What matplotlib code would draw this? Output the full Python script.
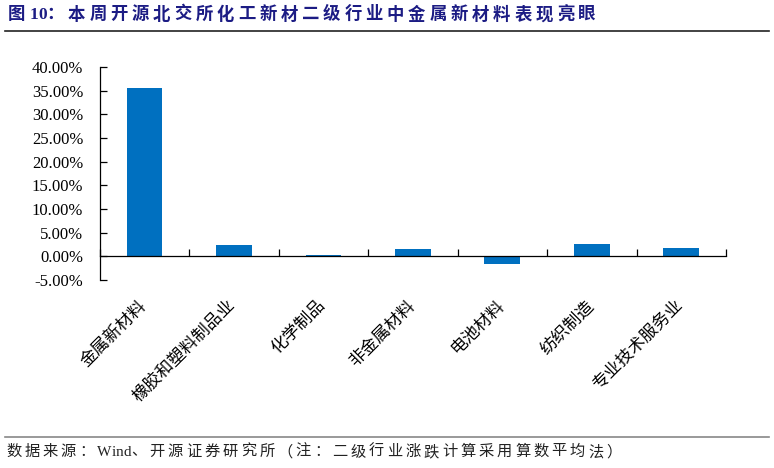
import matplotlib; matplotlib.use('Agg')
import matplotlib.pyplot as plt
from matplotlib.ticker import FuncFormatter, FixedLocator
import numpy as np

plt.rcParams['font.family'] = ['Liberation Serif', 'Noto Sans CJK SC']

categories = ['金属新材料', '橡胶和塑料制品业', '化学制品', '非金属材料', '电池材料', '纺织制造', '专业技术服务业']
values = [35.6, 2.4, 0.2, 1.5, -1.6, 2.5, 1.8]
yticks = [-5, 0, 5, 10, 15, 20, 25, 30, 35, 40]
title = '图10：本周开源北交所化工新材二级行业中金属新材料表现亮眼'
source = '数据来源：Wind、开源证券研究所（注：二级行业涨跌计算采用算数平均法）'

W, H, DPI = 774, 468, 100
fig = plt.figure(figsize=(W / DPI, H / DPI), dpi=DPI)
fig.patch.set_facecolor('white')
ax = fig.add_axes([0.129, 0.402, 0.809, 0.455])

x = np.arange(len(categories))
ax.bar(x, values, width=0.4, color='#0070C0', zorder=2)

ax.set_xlim(-0.5, len(categories) - 0.5)
ax.set_ylim(-5, 40)
ax.set_yticks(yticks)
ax.yaxis.set_major_formatter(FuncFormatter(lambda v, p: f'{v:.2f}%'))

for s in ['top', 'right']:
    ax.spines[s].set_visible(False)
ax.spines['bottom'].set_position(('data', 0))
ax.spines['left'].set_linewidth(0.9)
ax.spines['bottom'].set_linewidth(0.9)

ax.tick_params(axis='y', direction='in', length=5, width=0.9, labelsize=12, pad=12)
ax.xaxis.set_major_locator(FixedLocator(x))
ax.xaxis.set_minor_locator(FixedLocator(np.arange(-0.5, len(categories), 1.0)))
ax.tick_params(axis='x', which='major', length=0, pad=34, labelsize=12.3)
ax.tick_params(axis='x', which='minor', direction='in', length=5, width=0.9)
ax.set_xticklabels(categories)
for lbl in ax.get_xticklabels():
    lbl.set_rotation(45)
    lbl.set_ha('right')
    lbl.set_va('center')
    lbl.set_rotation_mode('anchor')

# text with extra spacing between CJK characters (as in the Word original)
renderer = fig.canvas.get_renderer()
def spaced_text(x_px, y_px, s, size, gap_px, **kw):
    em = size * DPI / 72
    for ch in s:
        t = fig.text(x_px / W, 1 - y_px / H, ch, fontsize=size, va='center', ha='left', **kw)
        if ord(ch) < 128:
            x_px += t.get_window_extent(renderer).width
        else:
            x_px += em + gap_px

spaced_text(8, 15, title, 12.5, 3.9, fontweight='bold', color='#1C1C84')
fig.add_artist(plt.Line2D([0.006, 0.994], [0.933, 0.933], color='#222222', lw=1.2))
fig.add_artist(plt.Line2D([0.006, 0.994], [0.066, 0.066], color='#888888', lw=1.2))
spaced_text(6, 452, source, 11, 3, color='#222222')

fig.savefig('out.png', dpi=DPI, facecolor='white')
